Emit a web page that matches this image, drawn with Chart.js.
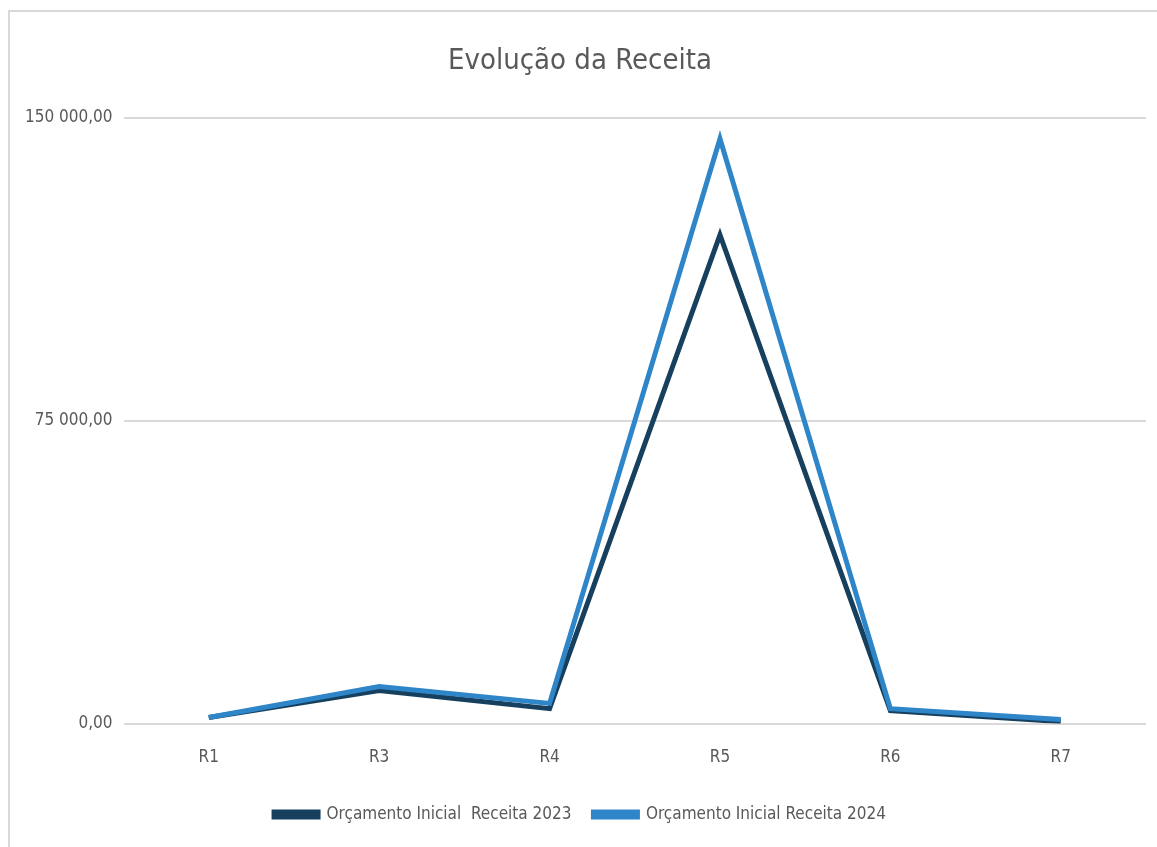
<!DOCTYPE html>
<html>
<head>
<meta charset="utf-8">
<script src="https://cdn.jsdelivr.net/npm/chart.js@4"></script>
<style>
  html, body { margin: 0; padding: 0; background: #fff; overflow: hidden; }
  #frame {
    position: absolute; left: 8px; top: 10px;
    width: 1160px; height: 845px;
    border: 2px solid #d9d9d9; box-sizing: border-box;
  }
  #chart { display: block; }
</style>
</head>
<body>
<div id="frame"><canvas id="chart" width="1156" height="841"></canvas></div>
<script>
// Dados do gráfico
const categorias = ['R1', 'R3', 'R4', 'R5', 'R6', 'R7'];
const receita2023 = [1500, 8200, 3700, 121000, 3200, 500];
const receita2024 = [1500, 9200, 5000, 144800, 3700, 1000];
const ticksY = [0, 75000, 150000];

const fonte = "'Liberation Sans Narrow', 'DejaVu Sans Condensed', 'Liberation Sans', sans-serif";
const cinza = '#595959';

function formatar(v) {
    const partes = Math.round(v).toString().replace(/\B(?=(\d{3})+(?!\d))/g, ' ');
    return partes + ',00';
}

const ctx = document.getElementById('chart').getContext('2d');
new Chart(ctx, {
    type: 'line',
    data: {
        labels: categorias,
        datasets: [{
            label: 'Orçamento Inicial  Receita 2023',
            data: receita2023,
            borderColor: '#17405f',
            backgroundColor: '#17405f',
            borderWidth: 5,
            pointRadius: 0,
            tension: 0,
            order: 1
        }, {
            label: 'Orçamento Inicial Receita 2024',
            data: receita2024,
            borderColor: '#2e86c8',
            backgroundColor: '#2e86c8',
            borderWidth: 5,
            pointRadius: 0,
            tension: 0,
            order: 0
        }]
    },
    options: {
        responsive: false,
        animation: false,
        layout: { padding: { top: 20, right: 20, left: 4, bottom: 20 } },
        scales: {
            x: {
                offset: true,
                grid: { display: false },
                border: { display: false },
                ticks: { color: cinza, font: { family: fonte, size: 17 }, padding: 16 }
            },
            y: {
                min: 0,
                max: 150000,
                afterBuildTicks: function(axis) {
                    axis.ticks = ticksY.map(v => ({ value: v }));
                },
                grid: { color: '#d9d9d9', lineWidth: 2, drawTicks: false },
                border: { display: false },
                ticks: {
                    color: cinza,
                    font: { family: fonte, size: 17 },
                    padding: 11,
                    callback: v => formatar(v)
                }
            }
        },
        plugins: {
            title: {
                display: true,
                text: 'Evolução da Receita',
                color: cinza,
                font: { family: fonte, size: 29, weight: 'normal' },
                padding: { top: 12, bottom: 39 }
            },
            legend: {
                position: 'bottom',
                labels: {
                    color: cinza,
                    font: { family: fonte, size: 17 },
                    boxWidth: 44,
                    boxHeight: 5,
                    padding: 22,
                    sort: (a, b) => a.datasetIndex - b.datasetIndex
                }
            },
            tooltip: { enabled: false }
        }
    }
});
</script>
</body>
</html>
